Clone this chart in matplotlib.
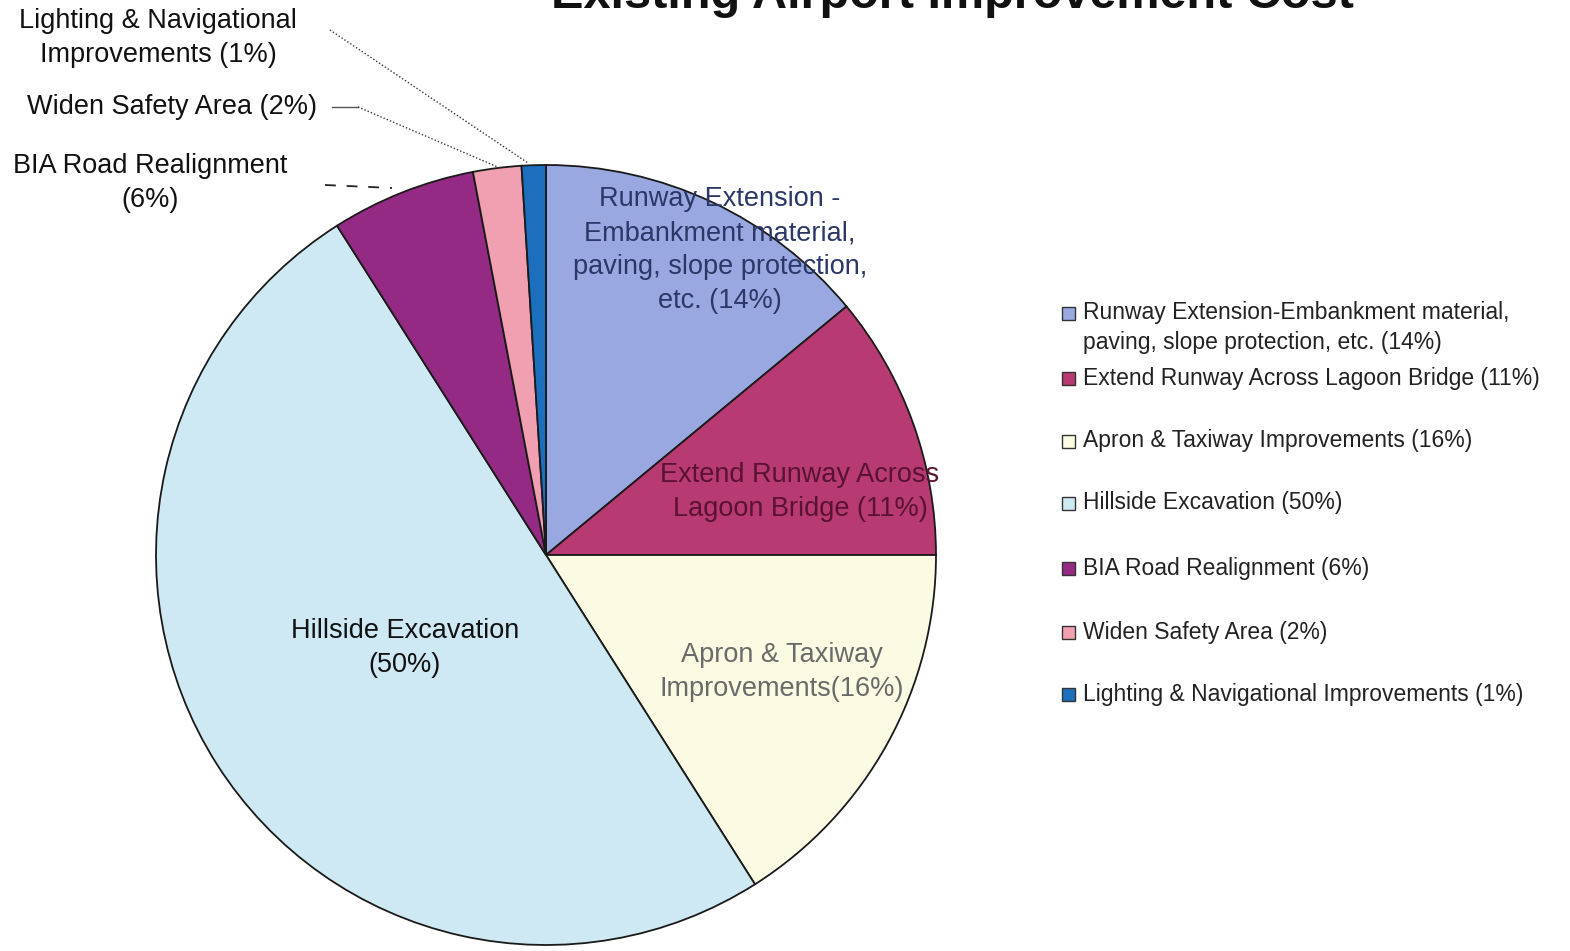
import matplotlib
matplotlib.use('Agg')
import matplotlib.pyplot as plt
from matplotlib.patches import Rectangle

plt.rcParams['font.family'] = ['Liberation Sans', 'DejaVu Sans']

# data
names = ['Runway Extension-Embankment material,\npaving, slope protection, etc. (14%)',
         'Extend Runway Across Lagoon Bridge (11%)',
         'Apron & Taxiway Improvements (16%)',
         'Hillside Excavation (50%)',
         'BIA Road Realignment (6%)',
         'Widen Safety Area (2%)',
         'Lighting & Navigational Improvements (1%)']
shares = [14, 11, 16, 50, 6, 2, 1]
colors = ['#9aa8e2', '#b83a72', '#fbfbe3', '#cfe9f4', '#952a84', '#f1a0b2', '#1c6fbd']
inner_labels = ['Runway Extension -\nEmbankment material,\npaving, slope protection,\netc. (14%)',
                'Extend Runway Across\nLagoon Bridge (11%)',
                'Apron & Taxiway\nImprovements(16%)',
                'Hillside Excavation\n(50%)']
inner_colors = ['#2b3766', '#5a1232', '#6a6a6a', '#111111']

W, H = 1570, 951
fig = plt.figure(figsize=(W / 100, H / 100), dpi=100)
ax = fig.add_axes([0, 0, 1, 1])

cx, cy, r = 546, H - 555, 390
wedges, _ = ax.pie(shares, colors=colors, startangle=90, counterclock=False,
                   center=(cx, cy), radius=r, frame=True,
                   wedgeprops=dict(edgecolor='#1a1a1a', linewidth=1.3))
ax.set_xlim(0, W)
ax.set_ylim(0, H)
ax.set_aspect('equal')
ax.axis('off')

# labels inside the big slices (pixel positions from the top)
inner_pos = [(720, 250), (800, 492), (782, 672), (405, 648)]
for txt, (x, y), c in zip(inner_labels, inner_pos, inner_colors):
    ax.text(x, H - y, txt, ha='center', va='center', fontsize=19.5,
            color=c, linespacing=1.4)

# outside labels for small slices
ax.text(158, H - 38, 'Lighting & Navigational\nImprovements (1%)', ha='center', va='center',
        fontsize=19.5, color='#111111', linespacing=1.4)
ax.plot([330, 528], [H - 30, H - 163], ls=(0, (1, 1.5)), color='#333333', lw=1)
ax.text(172, H - 107, 'Widen Safety Area (2%)', ha='center', va='center',
        fontsize=19.5, color='#111111')
ax.plot([332, 358], [H - 107, H - 107], color='#555555', lw=1)
ax.plot([358, 500], [H - 107, H - 168], ls=(0, (1, 1.5)), color='#333333', lw=1)
ax.text(150, H - 183, 'BIA Road Realignment\n(6%)', ha='center', va='center',
        fontsize=19.5, color='#111111', linespacing=1.4)
ax.plot([325, 392], [H - 185, H - 188], ls=(0, (6, 6)), color='#222222', lw=1.3)

# title, cut off at the top edge
ax.text(952, H - 8, 'Existing Airport Improvement Cost', ha='center', va='baseline',
        fontsize=35, fontweight='bold', color='#111111')

# legend
leg_y = [313, 378, 441, 503, 568, 632, 694]
for name, c, y in zip(names, colors, leg_y):
    ax.add_patch(Rectangle((1062, H - y - 6.5), 13, 13, facecolor=c,
                           edgecolor='#333333', lw=1))
    ty = y + 14.5 if '\n' in name else y
    ax.text(1083, H - ty, name, ha='left', va='center',
            fontsize=16.5, color='#222222', linespacing=1.35)

fig.savefig('out.png', dpi=100)
